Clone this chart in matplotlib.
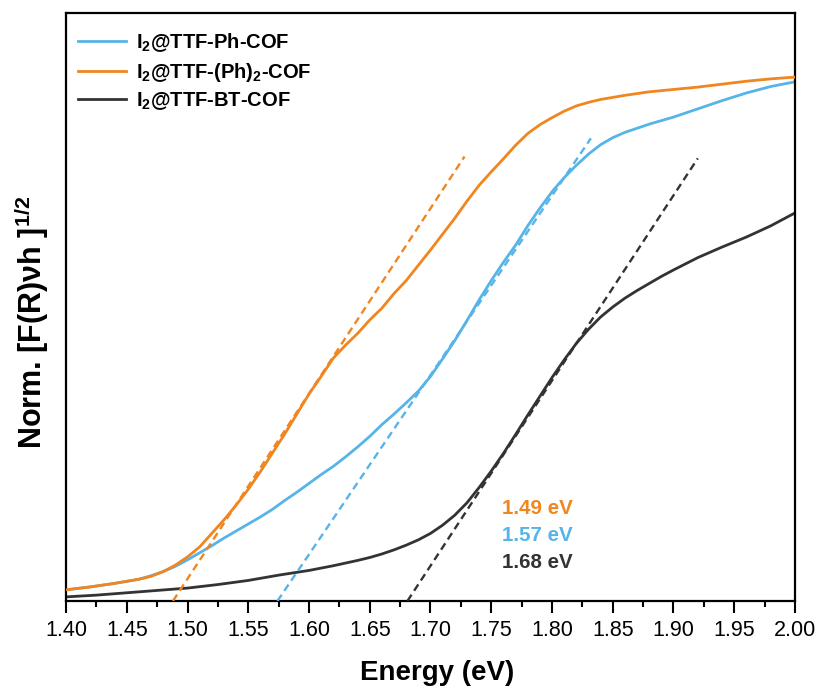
import numpy as np
import matplotlib.pyplot as plt

plt.rcParams['font.family'] = ['Liberation Sans', 'DejaVu Sans']
plt.rcParams['mathtext.fontset'] = 'custom'
plt.rcParams['mathtext.rm'] = 'Liberation Sans:bold'
plt.rcParams['mathtext.default'] = 'rm'

# photon energy (eV) and normalized Tauc values
e_ph = [1.400, 1.420, 1.440, 1.460, 1.470, 1.480, 1.490, 1.500, 1.510, 1.520,
        1.530, 1.540, 1.550, 1.560, 1.570, 1.580, 1.590, 1.600, 1.610, 1.620,
        1.630, 1.640, 1.650, 1.660, 1.670, 1.680, 1.690, 1.700, 1.710, 1.720,
        1.730, 1.740, 1.750, 1.760, 1.770, 1.780, 1.790, 1.800, 1.810, 1.820,
        1.830, 1.840, 1.860, 1.880, 1.900, 1.920, 1.940, 1.960, 1.980, 2.000]
y_ph = [0.019, 0.024, 0.030, 0.037, 0.042, 0.050, 0.061, 0.075, 0.092, 0.115,
        0.138, 0.163, 0.190, 0.220, 0.252, 0.284, 0.318, 0.352, 0.382, 0.413,
        0.435, 0.455, 0.478, 0.498, 0.523, 0.545, 0.571, 0.597, 0.624, 0.651,
        0.680, 0.707, 0.730, 0.752, 0.775, 0.795, 0.810, 0.822, 0.833, 0.842,
        0.848, 0.853, 0.860, 0.866, 0.870, 0.874, 0.879, 0.884, 0.888, 0.891]

e_p = [1.400, 1.420, 1.440, 1.460, 1.470, 1.480, 1.490, 1.500, 1.510, 1.520,
       1.530, 1.540, 1.550, 1.560, 1.570, 1.580, 1.590, 1.600, 1.610, 1.620,
       1.630, 1.640, 1.650, 1.660, 1.670, 1.680, 1.690, 1.700, 1.710, 1.720,
       1.730, 1.740, 1.750, 1.760, 1.770, 1.780, 1.790, 1.800, 1.810, 1.820,
       1.830, 1.840, 1.850, 1.860, 1.870, 1.880, 1.890, 1.900, 1.920, 1.940,
       1.960, 1.980, 2.000]
y_p = [0.019, 0.024, 0.030, 0.037, 0.043, 0.050, 0.059, 0.070, 0.082, 0.094,
       0.107, 0.119, 0.131, 0.143, 0.156, 0.171, 0.185, 0.200, 0.215, 0.229,
       0.245, 0.262, 0.280, 0.300, 0.318, 0.337, 0.357, 0.382, 0.412, 0.443,
       0.477, 0.512, 0.545, 0.576, 0.605, 0.638, 0.668, 0.696, 0.720, 0.741,
       0.760, 0.776, 0.788, 0.797, 0.804, 0.811, 0.817, 0.823, 0.837, 0.851,
       0.864, 0.875, 0.883]

e_bt = [1.400, 1.425, 1.450, 1.475, 1.500, 1.525, 1.550, 1.575, 1.600, 1.620,
        1.640, 1.650, 1.660, 1.670, 1.680, 1.690, 1.700, 1.710, 1.720, 1.730,
        1.740, 1.750, 1.760, 1.770, 1.780, 1.790, 1.800, 1.810, 1.820, 1.830,
        1.840, 1.850, 1.860, 1.870, 1.880, 1.890, 1.900, 1.920, 1.940, 1.960,
        1.980, 2.000]
y_bt = [0.007, 0.010, 0.014, 0.018, 0.022, 0.028, 0.035, 0.044, 0.052, 0.060,
        0.069, 0.074, 0.080, 0.087, 0.095, 0.104, 0.115, 0.129, 0.146, 0.167,
        0.193, 0.221, 0.251, 0.283, 0.316, 0.348, 0.380, 0.410, 0.438, 0.462,
        0.483, 0.500, 0.515, 0.528, 0.540, 0.552, 0.563, 0.584, 0.602, 0.619,
        0.638, 0.660]

labels = [r'I$_2$@TTF-Ph-COF', r'I$_2$@TTF-(Ph)$_2$-COF', r'I$_2$@TTF-BT-COF']
colors = ['#56b4e9', '#f0861f', '#333333']

# tangent lines: band gap (x-intercept), slope, end energy
gaps = [1.574, 1.488, 1.681]
slopes = [3.05, 3.15, 3.15]
tan_end = [1.832, 1.728, 1.920]
gap_text = ['1.49 eV', '1.57 eV', '1.68 eV']
gap_col = ['#f0861f', '#56b4e9', '#333333']

fig = plt.figure(figsize=(8.2, 6.89), dpi=100)
ax = fig.add_axes([0.0805, 0.1277, 0.889, 0.8534])

ax.plot(e_p, y_p, color=colors[0], lw=2.0, label=labels[0], zorder=2)
ax.plot(e_ph, y_ph, color=colors[1], lw=2.0, label=labels[1], zorder=3)
ax.plot(e_bt, y_bt, color=colors[2], lw=2.0, label=labels[2], zorder=2)

for g, k, x1, c in zip(gaps, slopes, tan_end, colors):
    xx = np.array([g, x1])
    ax.plot(xx, k * (xx - g), color=c, lw=1.7, ls=(0, (3.2, 2)), zorder=4)

for i, (t, c) in enumerate(zip(gap_text, gap_col)):
    ax.text(1.759, 0.158 - 0.046 * i, t, color=c, fontsize=14.8,
            fontweight='bold', va='center', ha='left')

ax.set_xlim(1.40, 2.00)
ax.set_ylim(0, 1)
ax.set_xticks(np.arange(1.40, 2.001, 0.05))
ax.set_xticks(np.arange(1.425, 2.0, 0.05), minor=True)
ax.set_yticks([])
ax.tick_params(axis='x', which='major', direction='out', length=8.5, width=1.5,
               labelsize=15.5, pad=5)
ax.tick_params(axis='x', which='minor', direction='out', length=4.5, width=1.5)
for s in ax.spines.values():
    s.set_linewidth(1.6)

ax.set_xlabel('Energy (eV)', fontsize=20, fontweight='bold', va='top')
ax.xaxis.set_label_coords(0.509, -0.1)
ax.set_ylabel(r'Norm. [F(R)νh ]$^{1/2}$', fontsize=22, fontweight='bold')
ax.yaxis.set_label_coords(-0.02, 0.474)

ax.legend(loc='upper left', bbox_to_anchor=(0.0165, 0.97), borderaxespad=0,
          borderpad=0, frameon=False, handlelength=2.4,
          handletextpad=0.5, labelspacing=0.35, prop={'weight': 'bold', 'size': 14.5})

fig.savefig('out.png', dpi=100)
